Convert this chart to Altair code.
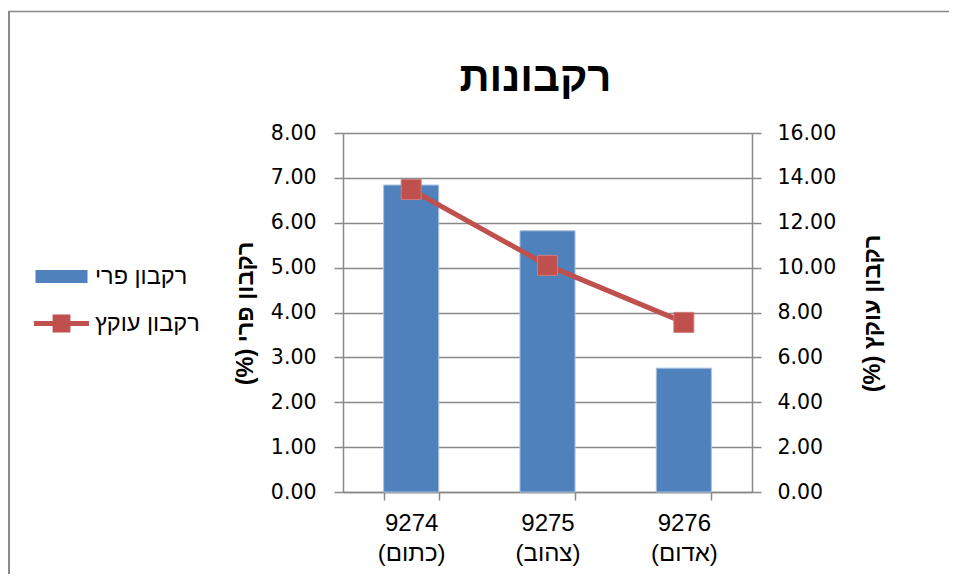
import altair as alt
import pandas as pd

# ---- data ----
codes = ["9274", "9275", "9276"]
names = ["(כתום)", "(צהוב)", "(אדום)"]
fruit_rot = [6.84, 5.82, 2.76]      # left axis, bars
stem_rot = [13.48, 10.10, 7.56]     # right axis, line
series = ["רקבון פרי", "רקבון עוקץ"]
colors = ["#4F81BD", "#C0504D"]
left_ticks = [0, 1, 2, 3, 4, 5, 6, 7, 8]
right_ticks = [0, 2, 4, 6, 8, 10, 12, 14, 16]
title_text = "רקבונות"
left_title = "\u202bרקבון פרי (%)\u202c"
right_title = "\u202bרקבון עוקץ (%)\u202c"

cats = [c + "|" + n for c, n in zip(codes, names)]
bar_df = pd.DataFrame({"cat": cats, "val": fruit_rot})
line_df = pd.DataFrame({"cat": cats, "val": stem_rot})
legend_df = pd.DataFrame({"series": series})

FONT = "Liberation Sans, Arial, DejaVu Sans, sans-serif"
WIDE = "DejaVu Sans, Liberation Sans, sans-serif"
GRAY = "#898989"

bar_path = "M-1.02,-0.255L1.02,-0.255L1.02,0.255L-1.02,0.255Z"
line_path = ("M-1.08,-0.1L-0.35,-0.1L-0.35,-0.35L0.35,-0.35L0.35,-0.1L1.08,-0.1"
             "L1.08,0.1L0.35,0.1L0.35,0.35L-0.35,0.35L-0.35,0.1L-1.08,0.1Z")

x_enc = alt.X(
    "cat:N", sort=None,
    scale=alt.Scale(paddingInner=0.596, paddingOuter=0.298),
    axis=alt.Axis(
        title=None, labelExpr="split(datum.label, '|')", labelAngle=0,
        labelFontSize=24, labelFont=FONT, labelColor="black",
        labelLineHeight=30, labelPadding=11, labelBaseline="top",
        tickBand="extent", tickSize=8, tickColor=GRAY, tickWidth=1.5,
        domainColor=GRAY, domainWidth=1.5, grid=False,
    ),
)

common_axis = dict(
    format=".2f", labelFontSize=20.5, labelFont=WIDE, labelColor="black",
    tickSize=9, tickColor=GRAY, tickWidth=1.5, domainColor=GRAY, domainWidth=1.5,
    titleFontSize=23.5, titleFont=FONT, titleFontWeight="bold", titleColor="black",
    titleAngle=270, titleAlign="center", titleBaseline="middle", titleY=180,
)

legend = alt.Legend(
    title=None, orient="none", legendX=-307, legendY=118, padding=0,
    symbolSize=2601, rowPadding=10, labelFontSize=23.5, labelFont=FONT,
    labelColor="black", labelOffset=8, labelLimit=300,
    symbolOpacity=1, symbolStrokeWidth=0,
)

bars = alt.Chart(bar_df).mark_bar(color=colors[0], stroke="#a9c1e0", strokeWidth=1).encode(
    x=x_enc,
    y=alt.Y("val:Q", scale=alt.Scale(domain=[0, 8], nice=False),
            axis=alt.Axis(orient="left", values=left_ticks, title=left_title,
                          grid=True, gridColor=GRAY, gridWidth=1.5,
                          labelPadding=18, titleX=-98, **common_axis)),
)

line = alt.Chart(line_df).mark_line(
    color=colors[1], strokeWidth=5,
    point=alt.OverlayMarkDef(shape="square", size=400, filled=True, fill=colors[1],
                             stroke="#d07b79", strokeWidth=1, opacity=1),
).encode(
    x=x_enc,
    y=alt.Y("val:Q", scale=alt.Scale(domain=[0, 16], nice=False),
            axis=alt.Axis(orient="right", values=right_ticks, title=right_title,
                          grid=False, labelPadding=16, titleX=120, **common_axis)),
)

legend_layer = alt.Chart(legend_df).mark_point(filled=True, size=0, opacity=1).encode(
    color=alt.Color("series:N", scale=alt.Scale(domain=series, range=colors), legend=legend),
    shape=alt.Shape("series:N", scale=alt.Scale(domain=series, range=[bar_path, line_path]),
                    legend=legend),
)

frame_src = pd.DataFrame({"k": [0]})
frame_left = alt.Chart(frame_src).mark_rule(color=GRAY, strokeWidth=2).encode(
    x=alt.value(-334), y=alt.value(-122), y2=alt.value(480))
frame_top = alt.Chart(frame_src).mark_rule(color=GRAY, strokeWidth=1.5).encode(
    x=alt.value(-335), x2=alt.value(640), y=alt.value(-121.5))

chart = alt.layer(bars, line, legend_layer, frame_left, frame_top).resolve_scale(
    y="independent"
).properties(
    width=409, height=359,
    padding={"left": 335, "top": 125, "right": 197, "bottom": 82},
    autosize=alt.AutoSizeParams(type="none"),
    title=alt.TitleParams(title_text, fontSize=42, fontWeight="bold", font=FONT,
                          color="black", anchor="middle", frame="group",
                          baseline="alphabetic", offset=0, dx=-12, dy=123),
).configure_view(strokeWidth=0).configure(font=FONT, background="white")

chart.save("out.html", embed_options={"renderer": "svg", "actions": False})
